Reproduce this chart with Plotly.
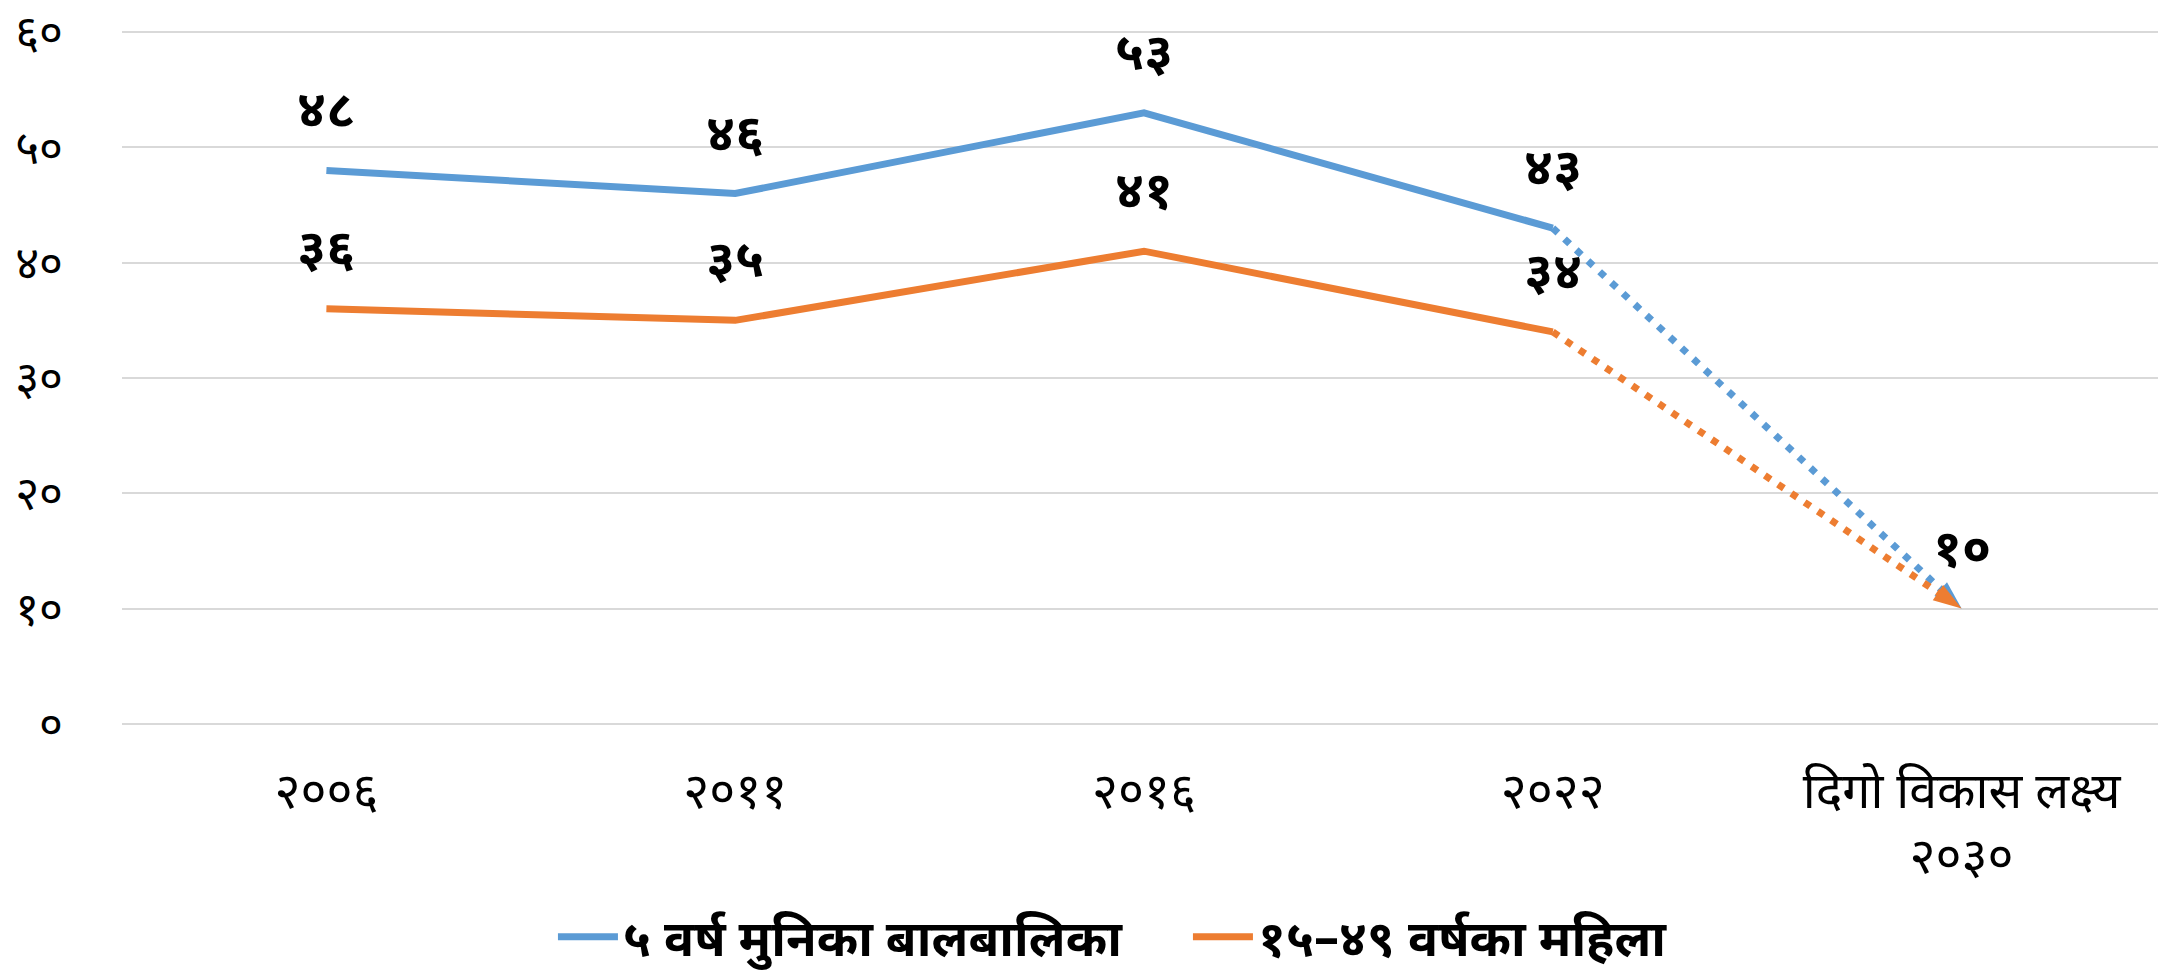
import plotly.graph_objects as go

categories = ["२००६", "२०११", "२०१६", "२०२२", "दिगो विकास लक्ष्य<br>२०३०"]
series_names = ["५ वर्ष मुनिका बालबालिका", "१५–४९ वर्षका महिला"]
children = [48, 46, 53, 43]
women = [36, 35, 41, 34]
target = 10
children_labels = ["४८", "४६", "५३", "४३"]
women_labels = ["३६", "३५", "४१", "३४"]
target_label = "१०"
ytick_vals = [0, 10, 20, 30, 40, 50, 60]
ytick_text = ["०", "१०", "२०", "३०", "४०", "५०", "६०"]

BLUE = "#5B9BD5"
ORANGE = "#ED7D31"
FONT = "Noto Sans Devanagari, Noto Sans, sans-serif"

fig = go.Figure()

fig.add_trace(go.Scatter(x=categories[:4], y=children, mode="lines",
                         line=dict(color=BLUE, width=7), name=series_names[0]))
fig.add_trace(go.Scatter(x=categories[:4], y=women, mode="lines",
                         line=dict(color=ORANGE, width=7), name=series_names[1]))
# dotted projections to target
for col, vals in ((BLUE, children), (ORANGE, women)):
    fig.add_trace(go.Scatter(x=[categories[3], categories[4]], y=[vals[3], target],
                             mode="lines+markers", showlegend=False,
                             line=dict(color=col, width=7, dash="7px,9px"),
                             marker=dict(symbol=["circle", "arrow"], size=[0, 30], color=col,
                                         opacity=1, angleref="previous",
                                         line=dict(width=0))))

annotations = []
for c, v, t in zip(categories[:4], children, children_labels):
    annotations.append(dict(x=c, y=v, text=t, showarrow=False, yshift=56))
for c, v, t in zip(categories[:4], women, women_labels):
    annotations.append(dict(x=c, y=v, text=t, showarrow=False, yshift=56))
annotations.append(dict(x=categories[4], y=target, text=target_label,
                        showarrow=False, yshift=56))
for a in annotations:
    a["font"] = dict(size=52, color="#000000", family=FONT, weight="bold")

fig.update_layout(
    width=2158, height=969,
    margin=dict(l=114, r=0, t=23, b=252, autoexpand=False),
    plot_bgcolor="white", paper_bgcolor="white",
    font=dict(family=FONT, color="#000000"),
    xaxis=dict(type="category", categoryorder="array", categoryarray=categories,
               range=[-0.5, 4.5], showgrid=False, zeroline=False, showline=False,
               tickfont=dict(size=50), ticks="", ticklabelstandoff=32, automargin=False),
    yaxis=dict(range=[-0.1, 60.1], tickvals=ytick_vals, ticktext=ytick_text,
               showgrid=True, gridcolor="#D9D9D9", gridwidth=2, zeroline=False,
               showline=False, tickfont=dict(size=46), ticklabelstandoff=58,
               ticklabeloverflow="allow", automargin=False),
    legend=dict(orientation="h", x=0.5215, xanchor="center", y=-0.305, yanchor="middle",
                font=dict(size=50, weight="bold"), itemwidth=60,
                entrywidth=560, entrywidthmode="pixels"),
    annotations=annotations,
    showlegend=True,
)
fig.write_html("out.html")
